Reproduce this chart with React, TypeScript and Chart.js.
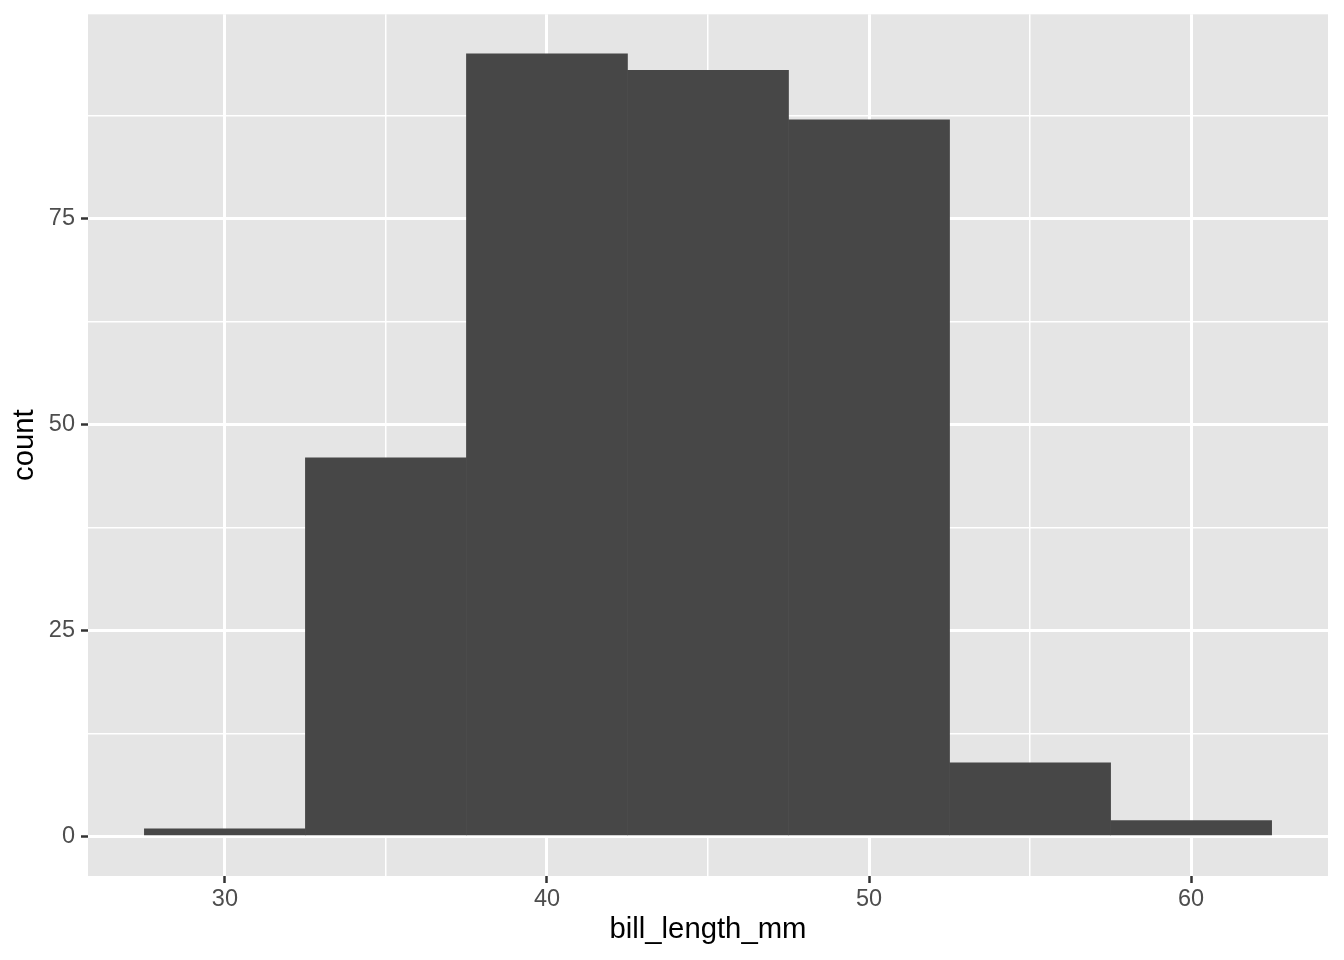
import React, { useEffect, useRef } from "react";
import { Chart, registerables } from "chart.js";

Chart.register(...registerables);

const binCenters = [30, 35, 40, 45, 50, 55, 60];
const counts = [1, 46, 95, 93, 87, 9, 2];
const xTicks = [30, 35, 40, 45, 50, 55, 60];
const yTicks = [0, 12.5, 25, 37.5, 50, 62.5, 75, 87.5];
const xMajor = [30, 40, 50, 60];
const yMajor = [0, 25, 50, 75];

const FONT = "'Liberation Sans', Arial, Helvetica, sans-serif";

export default function App() {
  const ref = useRef<HTMLCanvasElement | null>(null);
  useEffect(() => {
    if (!ref.current) return;
    const panelBg = {
      id: "panelBg",
      beforeDraw(chart: any) {
        const { ctx, chartArea } = chart;
        ctx.save();
        ctx.fillStyle = "#E5E5E5";
        ctx.fillRect(chartArea.left, chartArea.top, chartArea.right - chartArea.left, chartArea.bottom - chartArea.top);
        ctx.restore();
      },
    };
    const isMajor = (v: number, arr: number[]) => arr.includes(v);
    const chart = new Chart(ref.current, {
      type: "bar",
      data: {
        datasets: [
          {
            data: binCenters.map((x, i) => ({ x, y: counts[i] })),
            backgroundColor: "#474747",
            borderWidth: 0,
            barPercentage: 1.004,
            categoryPercentage: 1,
          },
        ],
      },
      options: {
        animation: false,
        responsive: true,
        maintainAspectRatio: false,
        layout: { padding: { left: 0, top: 14.3, right: 16, bottom: 0 } },
        plugins: { legend: { display: false }, tooltip: { enabled: false } },
        scales: {
          x: {
            type: "linear",
            min: 25.75,
            max: 64.25,
            offset: false,
            afterBuildTicks: (s: any) => {
              s.ticks = xTicks.map((v) => ({ value: v }));
            },
            afterFit: (s: any) => {
              s.height = 84;
              s.paddingLeft = 0;
              s.paddingRight = 0;
            },
            border: { display: false },
            grid: {
              offset: false,
              color: "#FFFFFF",
              lineWidth: (c: any) => (isMajor(c.tick.value, xMajor) ? 3 : 1.5),
              tickColor: (c: any) => (isMajor(c.tick.value, xMajor) ? "#333333" : "rgba(0,0,0,0)"),
              tickWidth: 2.5,
              tickLength: 7,
            },
            ticks: {
              autoSkip: false,
              maxRotation: 0,
              padding: 2,
              color: "#4D4D4D",
              font: { family: FONT, size: 23.5 },
              callback: (v: any) => (isMajor(Number(v), xMajor) ? String(v) : ""),
            },
            title: {
              display: true,
              text: "bill_length_mm",
              color: "#000000",
              font: { family: FONT, size: 29.3 },
              padding: { top: 0, bottom: 13 },
            },
          },
          y: {
            type: "linear",
            min: -4.75,
            max: 99.75,
            afterBuildTicks: (s: any) => {
              s.ticks = yTicks.map((v) => ({ value: v }));
            },
            afterFit: (s: any) => {
              s.width = 88;
              s.paddingTop = 0;
              s.paddingBottom = 0;
            },
            border: { display: false },
            grid: {
              color: "#FFFFFF",
              lineWidth: (c: any) => (isMajor(c.tick.value, yMajor) ? 3 : 1.5),
              tickColor: (c: any) => (isMajor(c.tick.value, yMajor) ? "#333333" : "rgba(0,0,0,0)"),
              tickWidth: 2.5,
              tickLength: 7,
            },
            ticks: {
              autoSkip: false,
              padding: 6,
              color: "#4D4D4D",
              font: { family: FONT, size: 23.5 },
              callback: (v: any) => (isMajor(Number(v), yMajor) ? String(v) : ""),
            },
            title: {
              display: true,
              text: "count",
              color: "#000000",
              font: { family: FONT, size: 29.3 },
              padding: { top: 7, bottom: 0 },
            },
          },
        },
      } as any,
      plugins: [panelBg],
    });
    return () => chart.destroy();
  }, []);
  return (
    <div style={{ position: "absolute", left: 0, top: 0, width: 1344, height: 960, background: "#FFFFFF" }}>
      <canvas ref={ref} />
    </div>
  );
}
